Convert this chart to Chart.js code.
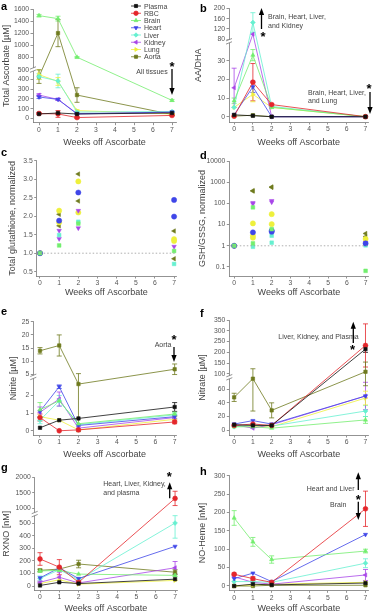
<!DOCTYPE html>
<html>
<head>
<meta charset="utf-8">
<script src="https://cdn.jsdelivr.net/npm/chart.js@4.4.1/dist/chart.umd.min.js"></script>
<style>
  html, body { margin: 0; padding: 0; background: #fff; overflow: hidden; }
  #fig { position: relative; width: 373px; height: 612px; }
  #fig canvas { position: absolute; }
</style>
</head>
<body>
<div id="fig"></div>
<script>
// ---- data ----
const weeks = [0, 1, 2, 7];
const tissues = ['Plasma', 'RBC', 'Brain', 'Heart', 'Liver', 'Kidney', 'Lung', 'Aorta'];

// a: total ascorbate [uM], rows follow tissues
const ascorbate = [
  [45, 55, 45, 55],
  [50, 45, 8, 30],
  [1490, 1440, 800, 185],
  [220, 195, 45, 65],
  [430, 385, 65, 70],
  [240, 195, 50, 60],
  [450, 380, 80, 45],
  [430, 1200, 240, 40]
];
const ascorbateErr = [
  null, [10, 35, 10, 5], [20, 40, 10, 10], [15, 10, 5, 5],
  [30, 70, 5, 5], [15, 10, 5, 5], [50, 40, 10, 5], [70, 225, 75, 10]
];

// b: AA/DHA
const aaDha = [
  [1, 0.5, 0, 0],
  [0.3, 18.5, 6.5, 0],
  [8.5, 33, 5, 0],
  [1, 16, 0, 0],
  [5, 145, 5.5, 0],
  [15.5, 100, 0, 0],
  [5, 12, 5, 0],
  [0.3, 0.8, 0, 0]
];
const aaDhaErr = [
  null, [0, 10, 0.5, 0], [1.5, 3, 0.5, 0], [0, 3, 0, 0],
  [0, 38, 0, 0], [10.5, 0, 0, 0], [0, 4, 0, 0], null
];

// c: total glutathione, normalized (values per week)
const glutathione = [
  null,
  null,
  [[1], [1.21], [1.80], [1.06]],
  [[1], [1.88], [2.64], [2.44, 1.99]],
  [[1], [1.49], [1.85], [0.71]],
  [[1], [1.61, 1.39], [2.15, 1.68], [1.18]],
  [[1], [2.15, 1.83], [2.94, 2.10], [1.38, 1.33]],
  [[1], [2.05, 1.74], [3.14, 2.41], [1.60, 0.85]]
];

// d: GSH/GSSG, normalized (values per week)
const gshRatio = [
  null,
  null,
  [[1], [65, 1.3], [6.1], [0.066]],
  [[1], [4.3], [4.6, 5.2], [1.3]],
  [[1], [0.9], [3.0, 1.4], [1.05]],
  [[1], [107, 95], [133, 115], [1.4]],
  [[1], [11.4, 3.0, 2.4], [31, 10.5], [2.1]],
  [[1], [380, 400], [570, 600], [3.8, 2.7]]
];

// e: nitrite [uM]
const nitrite = [
  [0.17, 0.6, 0.7, 1.35],
  [0.75, 0.0, 0.05, 0.5],
  [1.2, 1.7, 0.4, 0.95],
  [1.1, 2.5, 0.3, 0.8],
  [0.6, 1.7, 0.35, 0.9],
  [1.05, 1.8, 0.15, 0.75],
  [0.8, 0.6, 0.05, 0.65],
  [14, 16, 2.65, 7]
];
const nitriteErr = [
  [0, 0, 0, 0.25], [0.2, 0, 0, 0.1], [0.4, 0, 0, 0.1], [0, 0.1, 0, 0.1],
  [0.2, 0.3, 0, 0.1], [0.3, 0.4, 0.1, 0.1], [0, 0, 0, 0.15], [1.2, 4, 2.7, 2]
];

// f: nitrate [uM]
const nitrate = [
  [8, 7, 7, 215],
  [7, 9, 7, 232],
  [5, 5, 3, 15],
  [9, 14, 9, 50],
  [5, 8, 6, 28],
  [8, 3, 8, 50],
  [6, 6, 5, 47],
  [48, 76, 29, 110]
];
const nitrateErr = [
  [0, 0, 0, 15], [0, 0, 0, 100], [0, 0, 0, 5], [0, 0, 0, 0],
  [0, 0, 0, 8], [0, 0, 0, 20], [0, 0, 0, 10], [6, 48, 11, 45]
];

// g: RXNO [nM]
const rxno = [
  [5, 30, 20, 55],
  [215, 150, 30, 1320],
  [120, 125, 95, 85],
  [65, 145, 60, 315],
  [60, 130, 50, 500],
  [30, 70, 25, 145],
  [20, 50, 15, 45],
  [125, 135, 175, 110]
];
const rxnoErr = [
  null, [50, 60, 10, 230], [10, 0, 0, 10], [0, 0, 0, 0],
  [20, 10, 10, 120], [10, 40, 10, 50], null, [10, 10, 30, 20]
];

// h: NO-heme [nM]
const noHeme = [
  [0, 5, 3, 8],
  [32, 20, 10, 210],
  [185, 120, 72, 95],
  [20, 35, 12, 140],
  [12, 12, 10, 62],
  [25, 10, 5, 30],
  [0, 3, 5, 10],
  [0, 0, 2, 2]
];
const noHemeErr = [
  null, [3, 5, 2, 48], [20, 12, 10, 5], null,
  [0, 0, 0, 12], [0, 0, 0, 15], null, null
];

// ---- styles ----
const colors = ['#111111', '#e4262b', '#73ee6f', '#3f46e8', '#66f0d0', '#a846e8', '#eef03c', '#6f7a1e'];
const markers = ['rect', 'circle', 'triangle', 'triangle', 'rectRot', 'triangle', 'triangle', 'rect'];
const rotations = [0, 0, 0, 180, 0, -90, 90, 0];
// scatter panels (c, d) use other symbols
const dotMarkers = ['rect', 'circle', 'rect', 'circle', 'rect', 'triangle', 'circle', 'triangle'];
const dotRotations = [0, 0, 0, 0, 0, 180, 0, -90];

const FONT = '"Liberation Sans", Arial, sans-serif';
const GREY = '#444';

// y axis with a break: pieces are [value, fraction of axis height]
function toFrac(pc, v) {
  let i = 0;
  while (i < pc.length - 2 && v > pc[i + 1][0]) i++;
  const [v0, f0] = pc[i], [v1, f1] = pc[i + 1];
  return f0 + (v - v0) * (f1 - f0) / (v1 - v0);
}
function fromFrac(pc, f) {
  let i = 0;
  while (i < pc.length - 2 && f > pc[i + 1][1]) i++;
  const [v0, f0] = pc[i], [v1, f1] = pc[i + 1];
  return v0 + (f - f0) * (v1 - v0) / (f1 - f0);
}

class BrokenScale extends Chart.LinearScale {
  getPixelForValue(value) {
    if (value === null || value === undefined || isNaN(value)) return NaN;
    return this.getPixelForDecimal(toFrac(this._pieces, value));
  }
  getValueForPixel(pixel) {
    return fromFrac(this._pieces, this.getDecimalForPixel(pixel));
  }
}
BrokenScale.id = 'broken';
BrokenScale.defaults = {};
Chart.register(BrokenScale);

function lineSets(values, errs) {
  return tissues.map((name, k) => ({
    label: name,
    data: weeks.map((w, i) => ({ x: w, y: values[k][i] })),
    errors: errs[k],
    showLine: true,
    borderColor: colors[k],
    backgroundColor: colors[k],
    borderWidth: 0.8,
    pointStyle: markers[k],
    pointRotation: rotations[k],
    pointRadius: 2.4,
    pointBorderWidth: 0.6,
    clip: false
  }));
}

function dotSets(lists) {
  const sets = [];
  tissues.forEach((name, k) => {
    if (!lists[k]) return;
    const pts = [];
    lists[k].forEach((vals, i) => vals.forEach(v => pts.push({ x: weeks[i], y: v })));
    sets.push({
      label: name,
      data: pts,
      showLine: false,
      borderColor: colors[k],
      backgroundColor: colors[k],
      pointStyle: dotMarkers[k],
      pointRotation: dotRotations[k],
      pointRadius: 2.6,
      pointBorderWidth: 0.5,
      clip: false
    });
  });
  return sets;
}

const errorBars = {
  id: 'errorBars',
  beforeDatasetsDraw(chart) {
    const ctx = chart.ctx, ys = chart.scales.y;
    chart.data.datasets.forEach((ds, di) => {
      if (!ds.errors) return;
      const meta = chart.getDatasetMeta(di);
      ctx.save();
      ctx.strokeStyle = ds.borderColor;
      ctx.lineWidth = 0.8;
      meta.data.forEach((pt, i) => {
        const e = ds.errors[i];
        if (!e) return;
        const v = ds.data[i].y;
        const top = ys.getPixelForValue(v + e), bot = ys.getPixelForValue(v - e);
        ctx.beginPath();
        ctx.moveTo(pt.x, top); ctx.lineTo(pt.x, bot);
        ctx.moveTo(pt.x - 2.5, top); ctx.lineTo(pt.x + 2.5, top);
        ctx.moveTo(pt.x - 2.5, bot); ctx.lineTo(pt.x + 2.5, bot);
        ctx.stroke();
      });
      ctx.restore();
    });
  }
};

function drawArrow(ctx, x, y1, y2) {
  const dir = y2 > y1 ? 1 : -1;
  ctx.strokeStyle = '#000';
  ctx.fillStyle = '#000';
  ctx.lineWidth = 1.3;
  ctx.beginPath();
  ctx.moveTo(x, y1); ctx.lineTo(x, y2 - dir * 5);
  ctx.stroke();
  ctx.beginPath();
  ctx.moveTo(x, y2); ctx.lineTo(x - 2.6, y2 - dir * 7); ctx.lineTo(x + 2.6, y2 - dir * 7);
  ctx.closePath();
  ctx.fill();
}

function notesPlugin(p) {
  return {
    id: 'notes_' + p.id,
    afterDraw(chart) {
      const ctx = chart.ctx, ys = chart.scales.y, area = chart.chartArea;
      ctx.save();
      ctx.textBaseline = 'alphabetic';
      // panel letter
      ctx.fillStyle = '#000';
      ctx.font = 'bold 11px ' + FONT;
      ctx.textAlign = 'left';
      ctx.fillText(p.id, p.letter[0], p.letter[1]);
      // axis break
      if (p.y.pieces) {
        const pc = p.y.pieces;
        const py = ys.getPixelForDecimal((pc[1][1] + pc[2][1]) / 2);
        const x = area.left;
        ctx.fillStyle = '#fff';
        ctx.fillRect(x - 3, py - 1.6, 6, 3.2);
        ctx.strokeStyle = '#777';
        ctx.lineWidth = 0.8;
        ctx.beginPath();
        ctx.moveTo(x - 3, py - 0.4); ctx.lineTo(x + 3, py - 2.8);
        ctx.moveTo(x - 3, py + 2.8); ctx.lineTo(x + 3, py + 0.4);
        ctx.stroke();
      }
      for (const n of p.notes) {
        if (n.t === 'text') {
          ctx.fillStyle = GREY;
          ctx.font = '7px ' + FONT;
          ctx.textAlign = n.align || 'left';
          ctx.fillText(n.s, n.x, n.y);
        } else if (n.t === 'star') {
          ctx.fillStyle = '#000';
          ctx.font = 'bold 13px ' + FONT;
          ctx.textAlign = 'center';
          ctx.fillText('*', n.x, n.y + 7.5);
        } else if (n.t === 'arrow') {
          drawArrow(ctx, n.x, n.y1, n.y2);
        } else if (n.t === 'hline') {
          const py = ys.getPixelForValue(n.v);
          ctx.strokeStyle = '#999';
          ctx.lineWidth = 0.8;
          ctx.setLineDash([1.5, 2]);
          ctx.beginPath();
          ctx.moveTo(area.left, py); ctx.lineTo(area.right, py);
          ctx.stroke();
          ctx.setLineDash([]);
        } else if (n.t === 'legend') {
          chart.data.datasets.forEach((ds, k) => {
            const yy = n.y + k * 7.25;
            ctx.strokeStyle = ds.borderColor;
            ctx.fillStyle = ds.backgroundColor;
            ctx.lineWidth = 0.8;
            ctx.beginPath();
            ctx.moveTo(n.x, yy); ctx.lineTo(n.x + 10, yy);
            ctx.stroke();
            Chart.helpers.drawPoint(ctx, {
              pointStyle: ds.pointStyle, rotation: ds.pointRotation,
              radius: 2.2, borderWidth: 0.5
            }, n.x + 5, yy);
            ctx.fillStyle = GREY;
            ctx.font = '7px ' + FONT;
            ctx.textAlign = 'left';
            ctx.fillText(ds.label, n.x + 13, yy + 2.5);
          });
        }
      }
      ctx.restore();
    }
  };
}

const panels = [
  {
    id: 'a', sets: lineSets(ascorbate, ascorbateErr), title: 'Total Ascorbate [µM]',
    box: [0, 0, 186, 148], area: [33, 9, 176, 122.7], x: [-0.316, 7.21], titlePad: 1.6, letter: [1, 10],
    y: { type: 'broken', min: -45, max: 1600, pieces: [[-45, 0], [500, 0.465], [600, 0.47], [1600, 1]],
         ticks: [0, 100, 200, 300, 400, 500, 800, 1000, 1200, 1400, 1600] },
    notes: [
      { t: 'legend', x: 131, y: 6 },
      { t: 'text', s: 'All tissues', x: 152, y: 73.5, align: 'center' },
      { t: 'star', x: 172, y: 63 },
      { t: 'arrow', x: 172, y1: 69, y2: 95 }
    ]
  },
  {
    id: 'b', sets: lineSets(aaDha, aaDhaErr), title: 'AA/DHA',
    box: [186, 0, 187, 148], area: [43, 8.3, 187, 122], x: [-0.273, 7.155], titlePad: 7.3, letter: [14, 12],
    y: { type: 'broken', min: -2.84, max: 200, pieces: [[-2.84, 0], [40, 0.703], [75, 0.716], [200, 1]],
         ticks: [0, 10, 20, 30, 80, 120, 160, 200] },
    notes: [
      { t: 'arrow', x: 75.5, y1: 29, y2: 8 },
      { t: 'star', x: 77, y: 33 },
      { t: 'text', s: 'Brain, Heart, Liver,', x: 82, y: 19 },
      { t: 'text', s: 'and Kidney', x: 82, y: 27.5 },
      { t: 'text', s: 'Brain, Heart, Liver,', x: 122, y: 95 },
      { t: 'text', s: 'and Lung', x: 122, y: 102.5 },
      { t: 'star', x: 183, y: 85 },
      { t: 'arrow', x: 184, y1: 92, y2: 114 }
    ]
  },
  {
    id: 'c', sets: dotSets(glutathione), title: 'Total glutathione, normalized',
    box: [0, 148, 186, 150], area: [36.7, 12.7, 176, 128], x: [-0.172, 7.1], titlePad: 7.6, letter: [1, 8],
    y: { type: 'linear', min: 0.384, max: 3.5, ticks: [0.5, 1, 1.5, 2, 2.5, 3, 3.5], fmt: v => v.toFixed(1) },
    notes: [{ t: 'hline', v: 1 }]
  },
  {
    id: 'd', sets: dotSets(gshRatio), title: 'GSH/GSSG, normalized',
    box: [186, 148, 187, 150], area: [43.3, 13, 187, 128], x: [-0.258, 7.155], titlePad: 11.6, letter: [14, 11],
    y: { type: 'logarithmic', min: 0.0376, max: 10000, ticks: [0.1, 1, 10, 100, 1000, 10000] },
    notes: [{ t: 'hline', v: 1 }]
  },
  {
    id: 'e', sets: lineSets(nitrite, nitriteErr), title: 'Nitrite [µM]',
    box: [0, 300, 186, 160], area: [33.3, 21.7, 176, 135], x: [-0.348, 7.07], titlePad: 8.3, letter: [1, 15],
    y: { type: 'broken', min: -0.24, max: 25, pieces: [[-0.24, 0], [3.0, 0.504], [4.5, 0.522], [25, 1]],
         ticks: [0, 1, 2, 5, 10, 15, 20, 25] },
    notes: [
      { t: 'star', x: 174, y: 36 },
      { t: 'text', s: 'Aorta', x: 163, y: 46.5, align: 'center' },
      { t: 'arrow', x: 174, y1: 47, y2: 62 }
    ]
  },
  {
    id: 'f', sets: lineSets(nitrate, nitrateErr), title: 'Nitrate [µM]',
    box: [186, 300, 187, 160], area: [43.3, 20, 187, 135], x: [-0.258, 7.155], titlePad: 11.6, letter: [14, 17],
    y: { type: 'broken', min: -7, max: 350, pieces: [[-7, 0], [75, 0.488], [92, 0.516], [350, 1]],
         ticks: [0, 20, 40, 60, 100, 150, 200, 250, 300, 350] },
    notes: [
      { t: 'text', s: 'Liver, Kidney, and Plasma', x: 92.3, y: 39.3 },
      { t: 'arrow', x: 167.3, y1: 43, y2: 21.7 },
      { t: 'star', x: 166.5, y: 46 }
    ]
  },
  {
    id: 'g', sets: lineSets(rxno, rxnoErr), title: 'RXNO [nM]',
    box: [0, 455, 186, 159], area: [34.7, 22.3, 177, 135], x: [-0.275, 7.1], titlePad: 1.6, letter: [1, 16],
    y: { type: 'broken', min: -31, max: 2000, pieces: [[-31, 0], [550, 0.65], [900, 0.697], [2000, 1]],
         ticks: [0, 100, 200, 300, 400, 500, 1000, 1500, 2000] },
    notes: [
      { t: 'star', x: 169.3, y: 18.3 },
      { t: 'text', s: 'Heart, Liver, Kidney,', x: 103.3, y: 30.5 },
      { t: 'text', s: 'and plasma', x: 103.3, y: 39.5 },
      { t: 'arrow', x: 169.7, y1: 43.3, y2: 27.3 }
    ]
  },
  {
    id: 'h', sets: lineSets(noHeme, noHemeErr), title: 'NO-Heme [nM]',
    box: [186, 455, 187, 159], area: [43.3, 20.7, 187, 135.3], x: [-0.258, 7.155], titlePad: 11.6, letter: [14, 20],
    y: { type: 'linear', min: -11.7, max: 300, ticks: [0, 50, 100, 150, 200, 250, 300] },
    notes: [
      { t: 'text', s: 'Heart and Liver', x: 120.7, y: 36 },
      { t: 'text', s: 'Brain', x: 144, y: 51.5 },
      { t: 'arrow', x: 172.3, y1: 35, y2: 17.3 },
      { t: 'star', x: 172.3, y: 41.7 },
      { t: 'arrow', x: 172.3, y1: 46.7, y2: 65 }
    ]
  }
];

const fig = document.getElementById('fig');
const axisGrid = { drawOnChartArea: false, drawTicks: true, tickLength: 2.5, color: '#777', lineWidth: 0.8 };
const axisBorder = { color: '#777', width: 0.8 };
const tickFont = { family: FONT, size: 6.8 };
const titleFont = { family: FONT, size: 9 };

panels.forEach(p => {
  const cv = document.createElement('canvas');
  const [bx, by, bw, bh] = p.box;
  const [aL, aT, aR, aB] = p.area;
  cv.width = bw;
  cv.height = bh;
  cv.style.left = bx + 'px';
  cv.style.top = by + 'px';
  fig.appendChild(cv);

  new Chart(cv, {
    type: 'scatter',
    data: { datasets: p.sets },
    options: {
      responsive: false,
      animation: false,
      devicePixelRatio: 1,
      layout: { padding: { left: 0, top: aT, right: bw - aR, bottom: 0 } },
      plugins: { legend: { display: false }, tooltip: { enabled: false } },
      scales: {
        x: {
          type: 'linear', min: p.x[0], max: p.x[1],
          afterFit: s => { s.height = bh - aB; },
          afterBuildTicks: s => { s.ticks = weeks.concat([3, 4, 5, 6]).sort((m, n) => m - n).map(v => ({ value: v })); },
          ticks: { font: tickFont, color: '#555', padding: 1, autoSkip: false, maxRotation: 0 },
          grid: axisGrid, border: axisBorder,
          title: { display: true, text: 'Weeks off Ascorbate', color: GREY, font: titleFont, padding: { top: 0, bottom: 0.3 } }
        },
        y: {
          type: p.y.type, min: p.y.min, max: p.y.max,
          beforeUpdate: s => { s._pieces = p.y.pieces; },
          afterFit: s => { s.width = aL; },
          afterBuildTicks: s => { s.ticks = p.y.ticks.map(v => ({ value: v })); },
          ticks: { font: tickFont, color: '#555', padding: 1.5, autoSkip: false, callback: p.y.fmt || (v => String(v)) },
          grid: axisGrid, border: axisBorder,
          title: { display: true, text: p.title, color: GREY, font: titleFont, padding: { top: p.titlePad, bottom: 0 } }
        }
      }
    },
    plugins: [errorBars, notesPlugin(p)]
  });
});
</script>
</body>
</html>
